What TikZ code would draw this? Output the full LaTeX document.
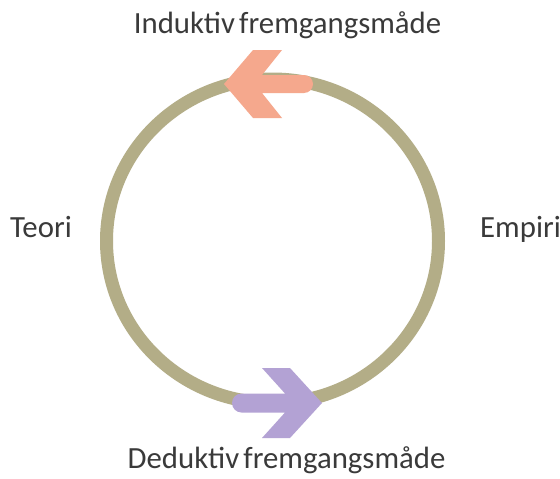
\documentclass[tikz,border=0pt]{standalone}
\usepackage{fontspec}
\setmainfont[WordSpace=0.6]{Carlito}
\definecolor{ring}{HTML}{B3AD87}
\definecolor{orangearr}{HTML}{F5A88D}
\definecolor{purplearr}{HTML}{B3A2D4}
\definecolor{txt}{HTML}{3A3A3A}
\begin{document}
\begin{tikzpicture}[x=1pt,y=-1pt,
  lbl/.style={font=\fontsize{30.8}{36}\selectfont, text=txt, inner sep=0pt, anchor=base},
  ringline/.style={draw=ring, line width=13pt},
]
\useasboundingbox (0,0) rectangle (560,479);
\fill[white] (0,0) rectangle (560,479);
% ring
\draw[ringline] (272.5,241) ellipse [x radius=166, y radius=162];
% top arrow (pointing left)
\fill[orangearr] (224,84) -- (253,50) -- (282,50) -- (262,75) -- (304,75)
  arc[start angle=-90, end angle=90, radius=9] -- (262,93) -- (282,118) -- (253,118) -- cycle;
% bottom arrow (pointing right)
\fill[purplearr] (322,403) -- (290,368) -- (262,368) -- (285,393.5) -- (241.5,393.5)
  arc[start angle=-90, end angle=-270, radius=9.5] -- (285,412.5) -- (262,438) -- (290,438) -- cycle;
% labels
\node[lbl] (top) at (287.5,33) {Induktiv fremgangsmåde};
\node[lbl] (bot) at (286.5,468) {Deduktiv fremgangsmåde};
\node[lbl] (teori) at (41,237) {Teori};
\node[lbl, anchor=base west] (empiri) at (480,237) {Empiri};
\end{tikzpicture}
\end{document}
